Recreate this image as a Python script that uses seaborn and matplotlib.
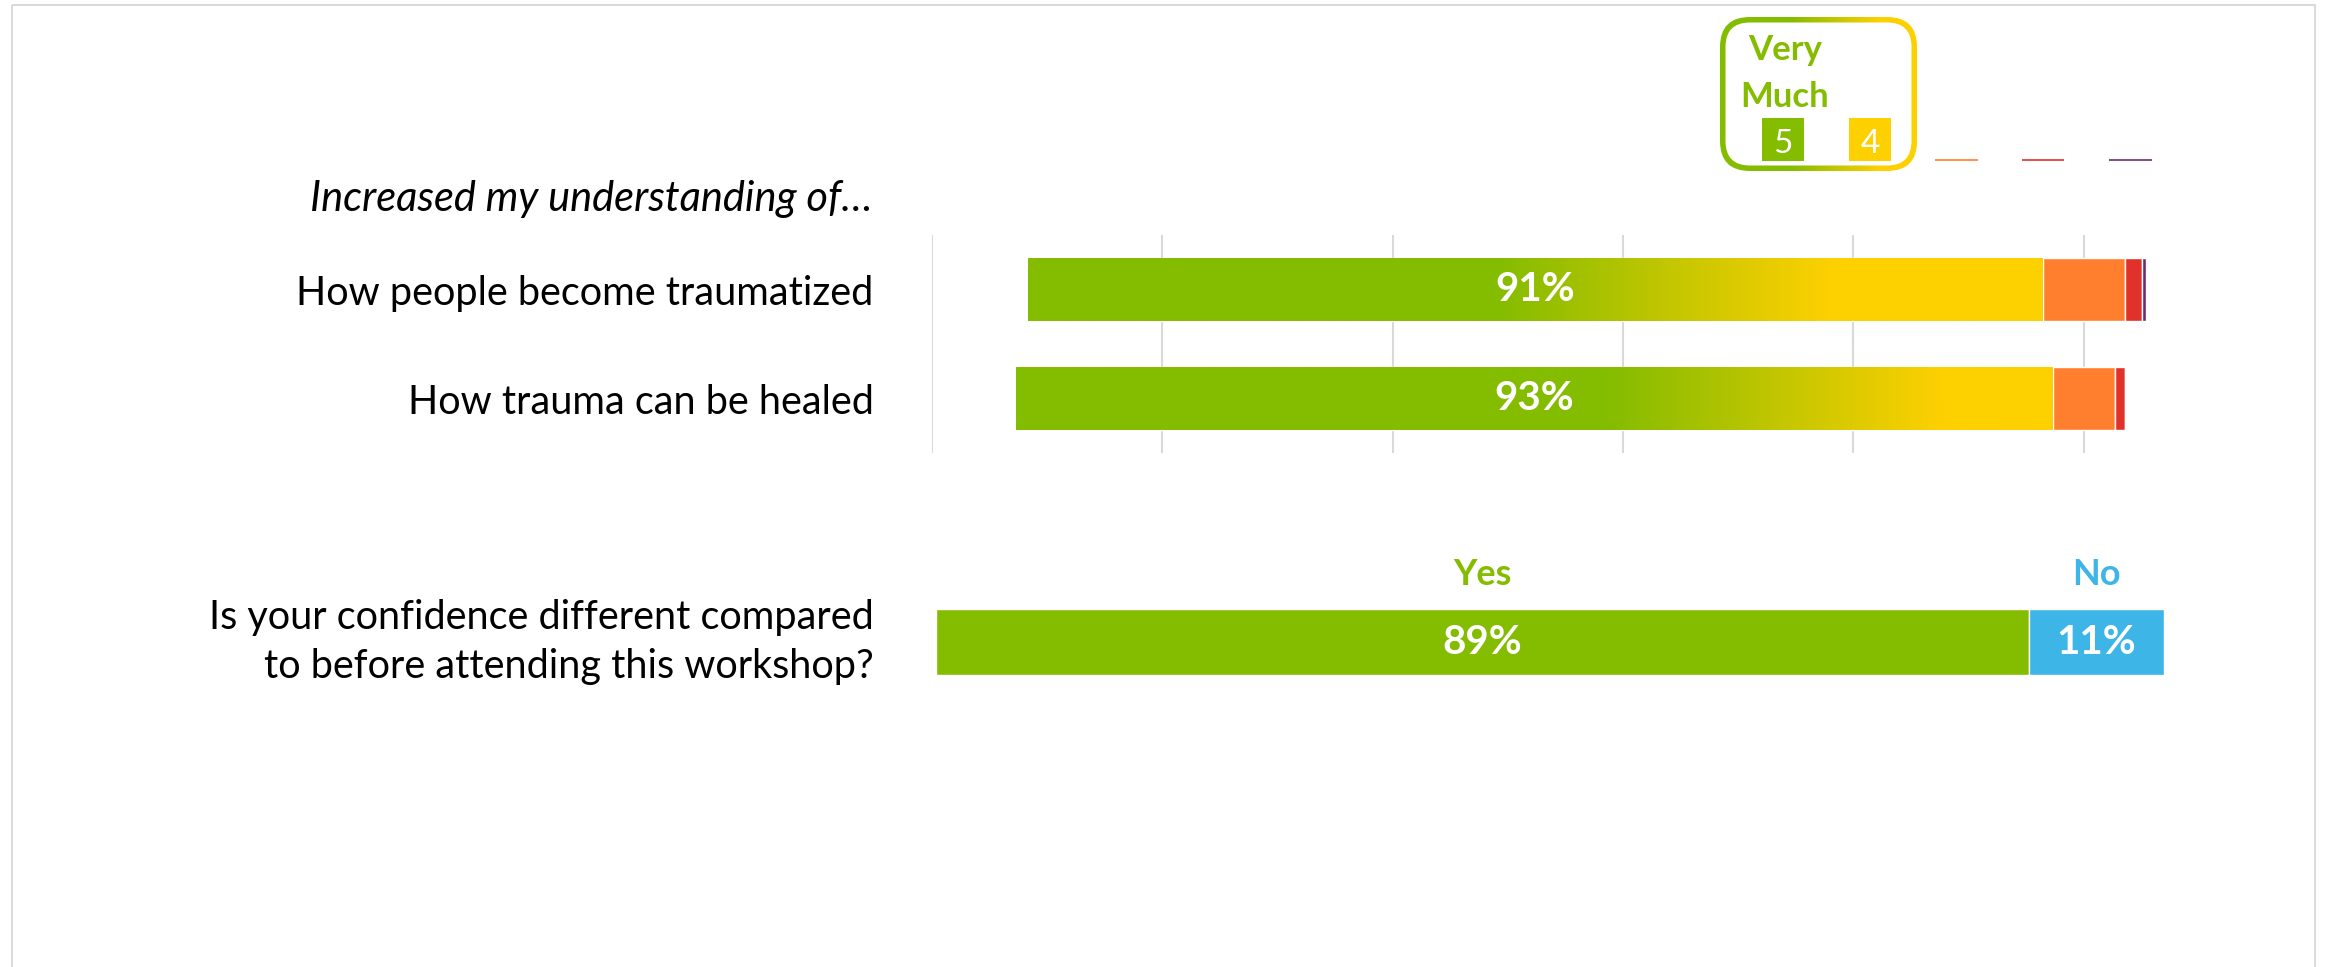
import numpy as np
import matplotlib
matplotlib.use("Agg")
import matplotlib.pyplot as plt
import seaborn as sns
from matplotlib.patches import FancyBboxPatch, Rectangle
from matplotlib.colors import to_rgb

# ---------------- data ----------------
items = ["How people become traumatized", "How trauma can be healed"]
rating_5 = [57, 68]          # Very Much
rating_4 = [34, 25]
rating_3 = [7.4, 5.6]
rating_2 = [1.5, 0.9]
rating_1 = [0.4, 0.0]

confidence_question = ["Is your confidence different compared\nto before attending this workshop?"]
confidence_yes = [89]
confidence_no = [11]

# ---------------- style ----------------
GREEN = "#84BC00"
YELLOW = "#FDD000"
ORANGE = "#FF7F2E"
RED = "#E0312A"
PURPLE = "#6B2C6E"
BLUE = "#3DB5E6"
LINE_GREY = "#D9D9D9"

W, H = 2330, 967
sns.set_theme(style="white")
plt.rcParams["font.family"] = ["Lato", "DejaVu Sans"]

LABEL_SIZE = 28.5
HEADER_SIZE = 30
VALUE_SIZE = 29
ANSWER_SIZE = 26


def px_rect(x0, y0, x1, y1):
    """Figure-fraction rectangle from pixel corners (origin top-left)."""
    return [x0 / W, 1 - y1 / H, (x1 - x0) / W, (y1 - y0) / H]


fig = plt.figure(figsize=(W / 100, H / 100), dpi=100)
fig.patch.set_facecolor("white")

# ---------------- diverging Likert chart ----------------
PX_PER_PCT = 11.15
GRID_STEP = 20.66
x_left = -5 * GRID_STEP
x_right = 10
ax = fig.add_axes(px_rect(932, 235, 932 + (x_right - x_left) * PX_PER_PCT, 453))

r5 = np.array(rating_5, float)
r4 = np.array(rating_4, float)
r3 = np.array(rating_3, float)
r2 = np.array(rating_2, float)
r1 = np.array(rating_1, float)
top2 = r5 + r4

# bars are centred on the midpoint of the neutral segment
left_top = -(top2 + r3 / 2)
left_3 = -r3 / 2
left_2 = r3 / 2
left_1 = r3 / 2 + r2

BAR_W = 0.587
segments = [
    (top2, left_top, GREEN),
    (r3, left_3, ORANGE),
    (r2, left_2, RED),
    (r1, left_1, PURPLE),
]
for widths, lefts, col in segments:
    sns.barplot(x=list(widths), y=items, left=list(lefts), color=col,
                saturation=1, width=BAR_W, errorbar=None, orient="y",
                ax=ax, zorder=2)

# green -> yellow blend across the top-two-box segment
top_patches = ax.patches[:len(items)]
g_rgb = np.array(to_rgb(GREEN))
y_rgb = np.array(to_rgb(YELLOW))
BLEND_HALF = 15.0
for i, p in enumerate(top_patches):
    x0, w = p.get_x(), p.get_width()
    xs = np.linspace(x0, x0 + w, 600)
    split = x0 + r5[i]
    t = np.clip((xs - (split - BLEND_HALF)) / (2 * BLEND_HALF), 0, 1)[:, None]
    grad = g_rgb * (1 - t) + y_rgb * t
    im = ax.imshow(grad[None, :, :], extent=(x0, x0 + w, p.get_y() + p.get_height(), p.get_y()),
                   aspect="auto", interpolation="bilinear", zorder=2.5)
    im.set_clip_path(p)
    ax.text(x0 + w / 2, i, f"{top2[i]:.0f}%", ha="center", va="center",
            color="white", fontsize=VALUE_SIZE, fontweight="bold", zorder=4)

ax.set_xlim(x_left, x_right)
ax.set_ylim(1.5, -0.5)
ax.set_xticks([k * GRID_STEP for k in range(-5, 1)])
ax.set_xticklabels([])
ax.grid(axis="x", color=LINE_GREY, linewidth=1.5, zorder=0)
ax.grid(axis="y", visible=False)
ax.set_axisbelow(True)
ax.tick_params(axis="both", length=0)
ax.tick_params(axis="y", pad=42, labelsize=LABEL_SIZE, labelcolor="black")
for s in ax.spines.values():
    s.set_visible(False)
ax.set_xlabel("")
ax.set_ylabel("")
ax.patch.set_alpha(0)

fig.text(873 / W, 1 - 199 / H, "Increased my understanding of…", ha="right",
         va="center", fontsize=HEADER_SIZE, fontstyle="italic", color="black")

# ---------------- Yes / No chart ----------------
ax2 = fig.add_axes(px_rect(936, 587, 2164, 697))
sns.barplot(x=confidence_yes, y=confidence_question, color=GREEN, saturation=1,
            width=0.6, errorbar=None, orient="y", ax=ax2)
sns.barplot(x=confidence_no, y=confidence_question, left=confidence_yes, color=BLUE,
            saturation=1, width=0.6, errorbar=None, orient="y", ax=ax2)
yes, no = confidence_yes[0], confidence_no[0]
ax2.text(yes / 2, 0, f"{yes}%", ha="center", va="center", color="white",
         fontsize=VALUE_SIZE, fontweight="bold")
ax2.text(yes + no / 2, 0, f"{no}%", ha="center", va="center", color="white",
         fontsize=VALUE_SIZE, fontweight="bold")
ax2.text(yes / 2, -0.61, "Yes", ha="center", va="center", color=GREEN,
         fontsize=ANSWER_SIZE, fontweight="bold", clip_on=False)
ax2.text(yes + no / 2, -0.61, "No", ha="center", va="center", color=BLUE,
         fontsize=ANSWER_SIZE, fontweight="bold", clip_on=False)
ax2.set_xlim(0, 100)
ax2.set_ylim(0.5, -0.5)
ax2.set_xticks([])
ax2.tick_params(axis="both", length=0)
ax2.tick_params(axis="y", pad=45, labelsize=LABEL_SIZE, labelcolor="black")
for t in ax2.get_yticklabels():
    t.set_linespacing(1.4)
    t.set_verticalalignment("center")
for s in ax2.spines.values():
    s.set_visible(False)
ax2.set_xlabel("")
ax2.set_ylabel("")
ax2.patch.set_alpha(0)

# ---------------- frame and rating key ----------------
ov = fig.add_axes([0, 0, 1, 1], zorder=-1)
ov.set_xlim(0, W)
ov.set_ylim(H, 0)
ov.axis("off")
ov.add_patch(Rectangle((12, 5), 2315 - 12, H + 20, facecolor="none",
                       edgecolor=LINE_GREY, linewidth=1.4))

ovk = fig.add_axes([0, 0, 1, 1], zorder=5)
ovk.set_xlim(0, W)
ovk.set_ylim(H, 0)
ovk.axis("off")

bx0, by0, bx1, by1, bw = 1720, 17, 1917, 171, 5.5
outer = FancyBboxPatch((bx0, by0), bx1 - bx0, by1 - by0,
                       boxstyle="round,pad=0,rounding_size=30",
                       facecolor="none", edgecolor="none")
ovk.add_patch(outer)
kx = np.linspace(bx0, bx1, 300)
kt = np.clip((kx - 1790) / (1880 - 1790), 0, 1)[:, None]
kgrad = g_rgb * (1 - kt) + y_rgb * kt
kim = ovk.imshow(kgrad[None, :, :], extent=(bx0, bx1, by1, by0), aspect="auto",
                 interpolation="bilinear", zorder=1)
kim.set_clip_path(outer)
ovk.add_patch(FancyBboxPatch((bx0 + bw, by0 + bw), bx1 - bx0 - 2 * bw, by1 - by0 - 2 * bw,
                             boxstyle=f"round,pad=0,rounding_size={30 - bw}",
                             facecolor="white", edgecolor="none", zorder=2))
ovk.set_xlim(0, W)
ovk.set_ylim(H, 0)

ovk.text(1785, 60, "Very", ha="center", va="baseline", color=GREEN,
         fontsize=25, fontweight="bold", zorder=3)
ovk.text(1785, 107, "Much", ha="center", va="baseline", color=GREEN,
         fontsize=25, fontweight="bold", zorder=3)
for (sx0, sx1), col, txt in [((1762, 1804), GREEN, "5"), ((1849, 1891), YELLOW, "4")]:
    ovk.add_patch(Rectangle((sx0, 118), sx1 - sx0, 43, facecolor=col,
                            edgecolor="none", zorder=3))
    ovk.text((sx0 + sx1) / 2, 153, txt, ha="center", va="baseline", color="white",
             fontsize=24, zorder=4)
for (lx0, lx1), col in [((1935, 1978), ORANGE), ((2022, 2064), RED), ((2109, 2152), PURPLE)]:
    ovk.plot([lx0, lx1], [160, 160], color=col, linewidth=1.2, zorder=3,
             solid_capstyle="butt")

fig.savefig("out.png", dpi=100, facecolor="white")
